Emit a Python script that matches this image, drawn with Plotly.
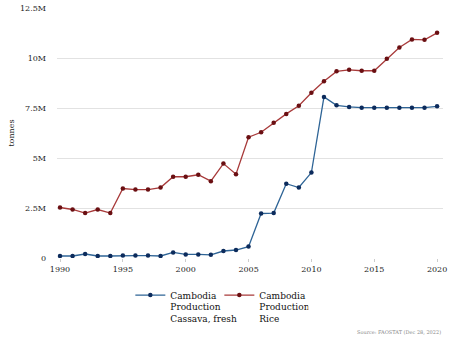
import plotly.graph_objects as go

years = list(range(1990, 2021))
cassava = [0.10, 0.10, 0.20, 0.10, 0.10, 0.12, 0.12, 0.12, 0.10, 0.28, 0.18, 0.18, 0.16, 0.35,
           0.40, 0.57, 2.23, 2.25, 3.72, 3.53, 4.28, 8.07, 7.65, 7.57, 7.53, 7.53, 7.53, 7.53,
           7.53, 7.53, 7.60]
rice = [2.53, 2.43, 2.25, 2.43, 2.25, 3.48, 3.43, 3.43, 3.53, 4.07, 4.07, 4.17, 3.85, 4.73,
        4.20, 6.05, 6.30, 6.77, 7.22, 7.63, 8.28, 8.85, 9.35, 9.43, 9.38, 9.38, 9.98, 10.55,
        10.95, 10.93, 11.28]
cassava = [v * 1e6 for v in cassava]
rice = [v * 1e6 for v in rice]

names = ["Cambodia<br>Production<br>Cassava, fresh", "Cambodia<br>Production<br>Rice"]
tickvals = [0, 2.5e6, 5e6, 7.5e6, 10e6, 12.5e6]
ticktext = ["0", "2.5M", "5M", "7.5M", "10M", "12.5M"]
xticks = [1990, 1995, 2000, 2005, 2010, 2015, 2020]

font = "DejaVu Serif"

fig = go.Figure()
fig.add_trace(go.Scatter(x=years, y=cassava, name=names[0], mode="lines+markers",
                         line=dict(color="#2e6496", width=1.3),
                         marker=dict(color="#0c2b5c", size=4.5)))
fig.add_trace(go.Scatter(x=years, y=rice, name=names[1], mode="lines+markers",
                         line=dict(color="#a83a3a", width=1.3),
                         marker=dict(color="#6a0f12", size=4.5)))

fig.update_layout(
    width=450, height=338,
    margin=dict(l=57, r=7, t=8, b=80, autoexpand=False),
    paper_bgcolor="white", plot_bgcolor="white",
    font=dict(family=font, size=8, color="#222222"),
    showlegend=True,
    legend=dict(orientation="h", x=0.19, xanchor="left", y=-0.099, yanchor="top",
                font=dict(family=font, size=9, color="#111111"), valign="top",
                itemwidth=30, tracegroupgap=0, entrywidth=44, entrywidthmode="pixels"),
    xaxis=dict(range=[1989.76, 2020.47], tickvals=xticks, showgrid=False, zeroline=False,
               showline=False, ticks="outside", ticklen=3, tickcolor="#cccccc",
               automargin=False,
               tickfont=dict(family=font, size=8, color="#222222")),
    yaxis=dict(range=[0, 12.5e6 * 1.002], tickvals=tickvals, ticktext=ticktext, showgrid=True,
               gridcolor="#e2e2e2", gridwidth=1, zeroline=False, showline=False,
               ticks="", ticklabelstandoff=10, automargin=False,
               title=dict(text="tonnes", font=dict(family=font, size=8, color="#222222"),
                          standoff=4),
               tickfont=dict(family=font, size=8, color="#222222")),
    annotations=[dict(text="Source: FAOSTAT (Dec 28, 2022)", xref="paper", yref="paper",
                      x=1.0, y=-0.296, xanchor="right", yanchor="middle", showarrow=False,
                      font=dict(family=font, size=5, color="#888888"))],
)

fig.write_html("out.html")
